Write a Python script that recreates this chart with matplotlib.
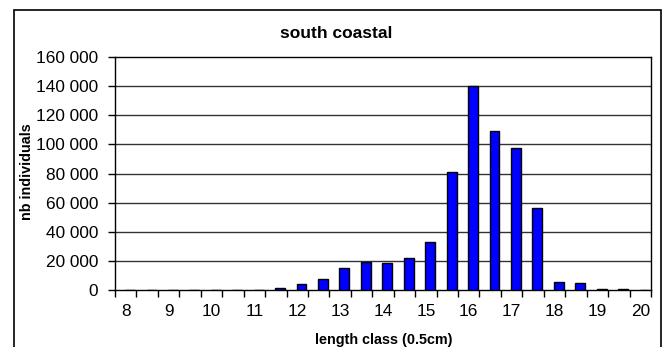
import matplotlib
matplotlib.use("Agg")
import matplotlib.pyplot as plt
from matplotlib.patches import Rectangle
from matplotlib.ticker import FixedLocator, FuncFormatter, NullFormatter

plt.rcParams['font.family'] = ['Liberation Sans', 'DejaVu Sans']

# Length classes (0.5 cm steps) and number of individuals per class
length_classes = ["8", "8.5", "9", "9.5", "10", "10.5", "11", "11.5", "12", "12.5",
                  "13", "13.5", "14", "14.5", "15", "15.5", "16", "16.5", "17", "17.5",
                  "18", "18.5", "19", "19.5", "20"]
nb_individuals = [0, 0, 0, 0, 0, 0, 0, 1600, 4000, 7600,
                  15200, 18900, 18600, 21800, 33300, 80700, 140000, 109200, 97200, 56100,
                  5300, 4600, 600, 600, 0]
x_tick_labels = ["8", "9", "10", "11", "12", "13", "14", "15", "16", "17", "18", "19", "20"]
y_ticks = [0, 20000, 40000, 60000, 80000, 100000, 120000, 140000, 160000]

W, H, DPI = 671, 347, 100
fig = plt.figure(figsize=(W / DPI, H / DPI), dpi=DPI)
fig.patch.set_facecolor("white")

# plot area in pixels
left, right, top, bottom = 115, 651, 57, 290
ax = fig.add_axes([left / W, 1 - bottom / H, (right - left) / W, (bottom - top) / H])

pos = list(range(len(length_classes)))
bar_pos = [p + 0.2 for p in pos]
ax.bar(bar_pos, nb_individuals, width=0.46, color="#0000FF",
       edgecolor="black", linewidth=1.0, zorder=3)

ax.set_xlim(-0.5, len(length_classes) - 0.5)
ax.set_ylim(0, 160000)

# horizontal gridlines
ax.set_yticks(y_ticks)
ax.yaxis.set_major_formatter(FuncFormatter(lambda v, _: f"{int(v):,}".replace(",", " ")))
for v in y_ticks[1:-1]:
    ax.axhline(v, color="#333333", linewidth=1.0, zorder=1)

# tick marks on class boundaries, labels on whole centimetres
ax.xaxis.set_major_locator(FixedLocator([i - 0.5 for i in range(len(length_classes) + 1)]))
ax.xaxis.set_major_formatter(NullFormatter())
ax.xaxis.set_minor_locator(FixedLocator([length_classes.index(l) for l in x_tick_labels]))
ax.set_xticklabels(x_tick_labels, minor=True)
ax.tick_params(axis="x", which="major", direction="out", length=5, width=1, color="black")
ax.tick_params(axis="x", which="minor", length=0, pad=10, labelsize=12.4)
ax.tick_params(axis="y", direction="out", length=5, width=1, labelsize=12.4, pad=7)

for s in ax.spines.values():
    s.set_color("black")
    s.set_linewidth(1.0)

fig.text(384 / W, 1 - 340 / H, "length class (0.5cm)", ha="center", va="center",
         fontsize=10.4, fontweight="bold")
fig.text(27 / W, 1 - 172 / H, "nb individuals", ha="center", va="center",
         rotation=90, fontsize=10.4, fontweight="bold")
fig.text(336 / W, 1 - 33 / H, "south coastal", ha="center", va="center",
         fontsize=12.5, fontweight="bold")

# chart area frame
fig.add_artist(Rectangle((14 / W, -0.1), (661 - 14) / W, 1.1 - 10 / H,
                         transform=fig.transFigure, fill=False,
                         edgecolor="black", linewidth=1.2, clip_on=False))

fig.savefig("out.png", dpi=DPI)
